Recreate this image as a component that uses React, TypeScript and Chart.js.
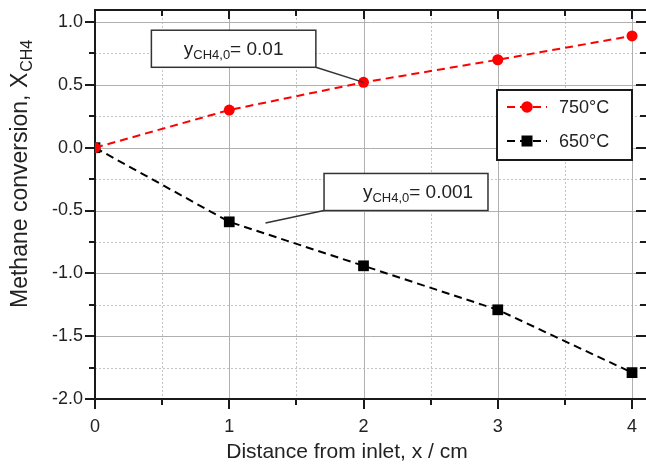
import React, { useEffect, useRef } from 'react';
import { Chart, registerables } from 'chart.js';

Chart.register(...registerables);

// ---- data ----
const xValues = [0, 1, 2, 3, 4];
const series750 = [0, 0.3, 0.52, 0.7, 0.89];
const series650 = [0, -0.59, -0.94, -1.29, -1.79];
const seriesLabels = ['750°C', '650°C'];
const xTickValues = [0, 1, 2, 3, 4];
const yTickValues = [-2.0, -1.5, -1.0, -0.5, 0.0, 0.5, 1.0];
const xTitle = 'Distance from inlet, x / cm';
const yTitleMain = 'Methane conversion, X';
const yTitleSub = 'CH4';
const annotationValues = ['0.01', '0.001'];
// box in data coords: [xLeft, xRight, yTop, yBottom], leader line end in data coords
const annotationBoxes = [
  [0.42, 1.645, 0.935, 0.64],
  [1.706, 2.927, -0.205, -0.5],
];
const annotationTargets = [
  [2, 0.52],
  [1.27, -0.6],
];
const annotationCorner = ['right', 'left'];

const FONT = '"Liberation Sans", Arial, sans-serif';
const TEXT = '#222';

const zeroPad = (s: any) => {
  s.paddingTop = 0;
  s.paddingBottom = 0;
  s.paddingLeft = 0;
  s.paddingRight = 0;
};

const framePlugin = {
  id: 'frame',
  beforeDatasetsDraw(chart: any) {
    const { ctx, chartArea, scales } = chart;
    const { left, right, top, bottom } = chartArea;
    const x = scales.x;
    const y = scales.y;
    ctx.save();
    // minor grid (dotted)
    ctx.strokeStyle = '#c4c4c4';
    ctx.lineWidth = 1;
    ctx.setLineDash([2, 2]);
    for (let v = -1.75; v < 1.1; v += 0.5) {
      const py = Math.round(y.getPixelForValue(v)) + 0.5;
      ctx.beginPath();
      ctx.moveTo(left, py);
      ctx.lineTo(right, py);
      ctx.stroke();
    }
    for (let v = 0.5; v < 4.1; v += 1) {
      const px = Math.round(x.getPixelForValue(v)) + 0.5;
      ctx.beginPath();
      ctx.moveTo(px, top);
      ctx.lineTo(px, bottom);
      ctx.stroke();
    }
    ctx.setLineDash([]);
    // major grid (solid)
    ctx.strokeStyle = '#b0b0b0';
    for (let v = -1.5; v < 1.1; v += 0.5) {
      const py = Math.round(y.getPixelForValue(v)) + 0.5;
      ctx.beginPath();
      ctx.moveTo(left, py);
      ctx.lineTo(right, py);
      ctx.stroke();
    }
    for (let v = 1; v < 4.1; v += 1) {
      const px = Math.round(x.getPixelForValue(v)) + 0.5;
      ctx.beginPath();
      ctx.moveTo(px, top);
      ctx.lineTo(px, bottom);
      ctx.stroke();
    }
    // axes
    ctx.strokeStyle = '#1a1a1a';
    ctx.lineWidth = 2;
    ctx.beginPath();
    ctx.moveTo(left, top);
    ctx.lineTo(left, bottom + 1);
    ctx.moveTo(left - 1, bottom);
    ctx.lineTo(right, bottom);
    ctx.moveTo(left - 1, top);
    ctx.lineTo(right, top);
    ctx.stroke();
    // ticks
    ctx.lineWidth = 2;
    ctx.beginPath();
    for (let v = -2; v < 1.1; v += 0.25) {
      const py = Math.round(y.getPixelForValue(v));
      const major = Math.abs(v * 2 - Math.round(v * 2)) < 1e-6;
      const len = major ? 10 : 6;
      ctx.moveTo(left - len, py);
      ctx.lineTo(left, py);
      ctx.moveTo(right, py);
      ctx.lineTo(right - len, py);
    }
    for (let v = 0; v < 4.1; v += 0.5) {
      const px = Math.round(x.getPixelForValue(v));
      const major = Math.abs(v - Math.round(v)) < 1e-6;
      const len = major ? 10 : 6;
      ctx.moveTo(px, bottom);
      ctx.lineTo(px, bottom + len);
      ctx.moveTo(px, top);
      ctx.lineTo(px, top + (major ? 9 : 6));
    }
    ctx.stroke();
    ctx.restore();
  },
  afterDraw(chart: any) {
    const { ctx, chartArea, scales } = chart;
    const { right, top, bottom } = chartArea;
    const x = scales.x;
    const y = scales.y;
    ctx.save();

    // x tick labels
    ctx.fillStyle = TEXT;
    ctx.font = `18px ${FONT}`;
    ctx.textAlign = 'center';
    ctx.textBaseline = 'alphabetic';
    xTickValues.forEach((v) => {
      ctx.fillText(String(v), x.getPixelForValue(v), bottom + 33);
    });

    // x title
    ctx.font = `21px ${FONT}`;
    ctx.fillText(xTitle, 347, 458);

    // y title (rotated, with subscript)
    ctx.save();
    ctx.translate(27, 308);
    ctx.rotate(-Math.PI / 2);
    ctx.textAlign = 'left';
    ctx.font = `23px ${FONT}`;
    ctx.fillText(yTitleMain, 0, 0);
    const w1 = ctx.measureText(yTitleMain).width;
    ctx.font = `16px ${FONT}`;
    ctx.fillText(yTitleSub, w1 + 1, 5);
    ctx.restore();

    // annotations
    annotationBoxes.forEach((b, i) => {
      const bx1 = x.getPixelForValue(b[0]);
      const bx2 = x.getPixelForValue(b[1]);
      const by1 = y.getPixelForValue(b[2]);
      const by2 = y.getPixelForValue(b[3]);
      const tx = x.getPixelForValue(annotationTargets[i][0]);
      const ty = y.getPixelForValue(annotationTargets[i][1]);
      const cx = annotationCorner[i] === 'right' ? bx2 : bx1;
      ctx.strokeStyle = '#333';
      ctx.lineWidth = 1.5;
      ctx.beginPath();
      ctx.moveTo(cx, by2);
      ctx.lineTo(tx, ty);
      ctx.stroke();
      ctx.fillStyle = '#fff';
      ctx.fillRect(bx1, by1, bx2 - bx1, by2 - by1);
      ctx.strokeRect(bx1, by1, bx2 - bx1, by2 - by1);
      // text y_CH4,0= value
      const base = (by1 + by2) / 2 + 6;
      ctx.fillStyle = TEXT;
      ctx.textAlign = 'left';
      ctx.textBaseline = 'alphabetic';
      ctx.font = `19px ${FONT}`;
      const s1 = 'y';
      const s2 = 'CH4,0';
      const s3 = '= ' + annotationValues[i];
      const wA = ctx.measureText(s1).width;
      const wC = ctx.measureText(s3).width;
      ctx.font = `13px ${FONT}`;
      const wB = ctx.measureText(s2).width;
      const total = wA + wB + wC;
      const sx = (bx1 + bx2) / 2 - total / 2 + (i === 1 ? 12 : 0);
      ctx.font = `19px ${FONT}`;
      ctx.fillText(s1, sx, base);
      ctx.font = `13px ${FONT}`;
      ctx.fillText(s2, sx + wA, base + 4);
      ctx.font = `19px ${FONT}`;
      ctx.fillText(s3, sx + wA + wB, base);
    });

    // legend
    const lx = right - 149;
    const ly = top + 80;
    const lw = 135;
    const lh = 70;
    ctx.fillStyle = '#fff';
    ctx.fillRect(lx, ly, lw, lh);
    ctx.strokeStyle = '#1a1a1a';
    ctx.lineWidth = 2;
    ctx.strokeRect(lx, ly, lw, lh);
    const ds = chart.data.datasets;
    ds.forEach((d: any, i: number) => {
      const ry = ly + 17 + i * 34;
      ctx.strokeStyle = d.borderColor;
      ctx.lineWidth = 2;
      ctx.setLineDash([8, 5]);
      ctx.lineDashOffset = -1;
      ctx.beginPath();
      ctx.moveTo(lx + 9, ry);
      ctx.lineTo(lx + 50, ry);
      ctx.stroke();
      ctx.setLineDash([]);
      ctx.fillStyle = d.pointBackgroundColor;
      if (d.pointStyle === 'rect') {
        ctx.fillRect(lx + 30 - 5.5, ry - 5.5, 11, 11);
      } else {
        ctx.beginPath();
        ctx.arc(lx + 30, ry, 5.8, 0, Math.PI * 2);
        ctx.fill();
      }
      ctx.fillStyle = TEXT;
      ctx.font = `18px ${FONT}`;
      ctx.textAlign = 'left';
      ctx.textBaseline = 'middle';
      ctx.fillText(d.label, lx + 62, ry + 1);
    });
    ctx.restore();
  },
};

export default function App() {
  const ref = useRef<HTMLCanvasElement | null>(null);
  useEffect(() => {
    if (!ref.current) return;
    const chart = new Chart(ref.current, {
      type: 'scatter',
      data: {
        datasets: [
          {
            label: seriesLabels[0],
            data: xValues.map((v, i) => ({ x: v, y: series750[i] })),
            showLine: true,
            borderColor: '#ff0000',
            backgroundColor: '#ff0000',
            pointBackgroundColor: '#ff0000',
            pointBorderColor: '#ff0000',
            pointStyle: 'circle',
            pointRadius: 5.5,
            pointBorderWidth: 0,
            borderWidth: 2,
            borderDash: [8, 5],
          },
          {
            label: seriesLabels[1],
            data: xValues.map((v, i) => ({ x: v, y: series650[i] })),
            showLine: true,
            borderColor: '#000000',
            backgroundColor: '#000000',
            pointBackgroundColor: '#000000',
            pointBorderColor: '#000000',
            pointStyle: 'rect',
            pointRadius: 7.6,
            pointBorderWidth: 0,
            borderWidth: 2,
            borderDash: [8, 5],
          },
        ],
      },
      options: {
        animation: false,
        responsive: false,
        devicePixelRatio: 1,
        layout: { autoPadding: false, padding: { top: 10, right: 0, bottom: 0, left: 0 } },
        plugins: {
          legend: { display: false },
          tooltip: { enabled: false },
          title: { display: false },
        },
        scales: {
          x: {
            type: 'linear',
            min: 0,
            max: 4.104,
            afterFit: (s: any) => {
              s.height = 65;
              zeroPad(s);
            },
            grid: { display: false, drawTicks: false },
            border: { display: false },
            ticks: { display: false, stepSize: 1 },
          },
          y: {
            type: 'linear',
            min: -2,
            max: 1.096,
            afterFit: (s: any) => {
              s.width = 95;
              zeroPad(s);
            },
            afterBuildTicks: (s: any) => {
              s.ticks = yTickValues.map((v) => ({ value: v }));
            },
            grid: { display: false, drawTicks: false },
            border: { display: false },
            ticks: {
              font: { family: FONT, size: 18 },
              color: TEXT,
              padding: 12,
              autoSkip: false,
              callback: (v: any) => Number(v).toFixed(1),
            },
          },
        },
      },
      plugins: [framePlugin],
    });
    return () => chart.destroy();
  }, []);
  return (
    <div style={{ position: 'absolute', left: 0, top: 0, width: 646, height: 464, background: '#fff' }}>
      <canvas ref={ref} width={646} height={464} style={{ width: 646, height: 464, display: 'block' }} />
    </div>
  );
}
